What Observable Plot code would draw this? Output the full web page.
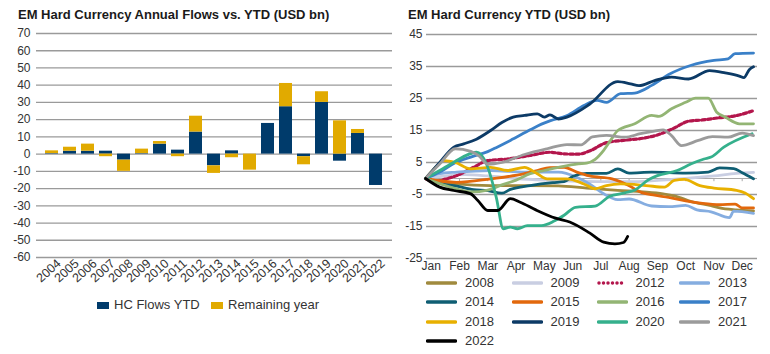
<!DOCTYPE html>
<html>
<head>
<meta charset="utf-8">
<script src="https://cdn.jsdelivr.net/npm/d3@7"></script>
<script src="https://cdn.jsdelivr.net/npm/@observablehq/plot@0.6"></script>
<style>
  html, body { margin: 0; padding: 0; background: #fff; }
  #wrap { position: relative; width: 770px; height: 354px; overflow: hidden; background: #fff;
          font-family: "Liberation Sans", Arial, sans-serif; color: #222; }
  .title { position: absolute; top: 7px; font-size: 13px; font-weight: bold; line-height: 16px; color: #1a1a1a; white-space: nowrap; }
  .leg { position: absolute; font-size: 13px; line-height: 16px; color: #333; white-space: nowrap; display: flex; align-items: center; }
  .abs { position: absolute; top: 0; }
</style>
</head>
<body>
<div id="wrap"></div>
<script>
// ---------- Left chart data ----------
const years = [2004,2005,2006,2007,2008,2009,2010,2011,2012,2013,2014,2015,2016,2017,2018,2019,2020,2021,2022];
const hcFlowsYTD = [0.3,1.7,1.7,1.7,-3.5,0.3,5.8,2.3,12.8,-6.8,1.9,0,17.8,27.5,-1.5,30.0,-4.1,12.0,-18.2];
const remainingYear = [1.6,2.3,4.1,-1.5,-6.5,2.6,1.5,-1.5,9.2,-4.4,-2.1,-9.3,0,13.5,-4.7,6.2,19.3,2.3,0];
const barSeries = ["HC Flows YTD", "Remaining year"];
const barColors = ["#003b6b", "#e1aa00"];
const leftTicks = [-60,-50,-40,-30,-20,-10,0,10,20,30,40,50,60,70];

// ---------- Right chart data ----------
const monthLabels = ["Jan","Feb","Mar","Apr","May","Jun","Jul","Aug","Sep","Oct","Nov","Dec"];
const rightTicks = [45,35,25,15,5,-5,-15,-25];
// [month position (Jan label = 0), cumulative flow USD bn]
const y2008 = [[-0.2,0],[0.9,-1.7],[2.1,-2.2],[3.3,-2.2],[4.5,-2.3],[5.5,-3.0],[6.6,-3.7],[7.5,-4.2],[8.2,-4.8],[8.6,-5.4],[9.2,-7.2],[9.9,-8.5],[10.2,-9.2],[10.8,-9.8],[11.4,-10.1]];
const y2009 = [[-0.2,0],[0.5,0.8],[1.2,1.2],[2,0.8],[3,0],[4,-0.5],[5,-0.8],[6,-1],[7,-1],[8,-0.6],[9,0],[10,0.8],[10.8,1.6],[11.4,1.9]];
const y2012 = [[-0.2,0],[0.1,-1.0],[0.5,-0.2],[0.9,0.9],[1.5,3.5],[2.0,5.6],[2.7,6.1],[3.5,7.2],[4.2,8.2],[4.7,7.7],[5.2,7.6],[5.6,8.6],[6.2,11.2],[6.8,11.9],[7.5,12.6],[8.0,13.6],[8.6,15.8],[9.1,17.9],[9.6,18.3],[10.2,19],[10.7,19.5],[11.4,21.2]];
const y2013 = [[-0.2,0],[0.3,1.5],[0.9,2.0],[2.1,2.5],[3.3,2.0],[4.5,2.0],[5.15,0.4],[5.6,-1.7],[6.05,-4.5],[6.6,-6.6],[7.0,-6.4],[7.8,-8.6],[8.4,-8.8],[9.0,-8.4],[9.4,-9.8],[9.9,-10.4],[10.55,-12.2],[10.7,-10.2],[11.4,-10.9]];
const y2014 = [[-0.2,0],[0.3,-1.5],[0.9,-2.4],[1.5,-3.5],[2.0,-3.8],[2.5,-4.6],[2.8,-3.4],[3.5,-2.2],[4.3,-1.3],[4.7,-1.0],[5.0,0.6],[5.5,1.6],[6.2,1.6],[6.6,3.0],[7.0,1.7],[7.8,2.0],[9.0,1.7],[9.8,2.0],[10.2,3.3],[10.7,3.1],[11.0,1.8],[11.4,-0.1]];
const y2015 = [[-0.2,0],[0.9,-1.2],[2.1,-0.1],[3.3,1.5],[3.75,2.5],[4.2,3.4],[4.7,3.5],[5.15,2.0],[5.6,0.8],[6.4,-0.1],[6.95,-2.0],[7.45,-4.4],[7.9,-5.2],[8.4,-5.9],[9.0,-7.0],[9.6,-7.8],[10.2,-8.2],[10.75,-8.0],[11.0,-9.2],[11.4,-9.2]];
const y2016 = [[-0.2,0],[0.8,-3.0],[1.4,-4.2],[2.0,-3.6],[2.5,-2.0],[3.0,-0.5],[3.5,1.5],[4.0,2.5],[4.5,3.5],[5.2,4.6],[5.5,4.8],[5.8,6.0],[6.1,8.8],[6.35,12],[6.6,15],[7.2,17.1],[7.8,19.7],[8.05,19.4],[8.5,21.8],[9.0,23.8],[9.35,25.1],[9.8,25.1],[10.1,20.7],[10.4,19.2],[10.9,17.1],[11.4,17.1]];
const y2017 = [[-0.2,0],[0.3,2.0],[0.8,4.7],[1.4,6.7],[2.0,8.4],[2.33,9.8],[2.8,11.9],[3.5,15.2],[3.9,17.0],[4.22,18.1],[4.81,19.7],[5.4,22.8],[5.87,24.4],[6.2,23.8],[6.7,26.5],[7.2,26.7],[7.8,29.1],[8.4,32.5],[9.2,35.4],[10.0,36.9],[10.5,37.4],[10.75,39],[11.4,39.2]];
const y2018 = [[-0.2,0],[0.1,3.0],[0.45,5.6],[0.85,5.0],[1.4,3.0],[2.1,3.5],[2.7,2.5],[3.3,3.5],[3.75,1.5],[4.1,-0.1],[4.8,-0.1],[5.4,-1.7],[5.8,-3.2],[6.2,-2.2],[6.7,-1.7],[7.6,-2.2],[8.25,-2.7],[8.6,-0.6],[8.95,-0.3],[9.5,-2.2],[10.0,-3.0],[10.8,-3.7],[11.1,-4.5],[11.4,-6.3]];
const y2019 = [[-0.2,0],[0.3,5.0],[0.8,9.8],[1.15,10.8],[1.6,12.3],[2.1,15],[2.5,17.5],[2.9,19.2],[3.3,19.7],[3.75,20.2],[4.0,19.2],[4.2,19.9],[4.5,18.6],[4.8,19.2],[5.6,23.2],[6.6,30.3],[7.05,29.6],[7.35,29.0],[7.9,30.6],[8.5,31.7],[9.1,31.1],[9.85,33.7],[10.4,33],[10.9,32],[11.06,31.5],[11.25,34],[11.4,34.9]];
const y2020 = [[-0.2,0],[0.3,2.5],[0.8,5.1],[1.6,8.2],[1.95,4.6],[2.3,-5.8],[2.55,-15.7],[2.8,-15.2],[3.05,-15.7],[3.4,-14.7],[3.9,-14.7],[4.35,-13.3],[4.7,-11.5],[5.1,-9],[5.8,-8.6],[6.3,-5.6],[6.85,-4.5],[7.2,-3.6],[7.7,-0.3],[8.0,0.9],[8.7,2.5],[9.2,4.6],[9.65,6.1],[9.9,6.7],[10.35,9.8],[11.35,14]];
const y2021 = [[-0.2,0],[0.3,4.5],[0.85,9.3],[1.4,8.5],[1.7,7],[2.0,4.4],[2.5,5.0],[3.3,7.5],[4.1,9.3],[4.8,10.6],[5.3,10.5],[5.7,13.0],[6.2,13.5],[6.85,12.9],[7.4,14.0],[7.9,14.8],[8.2,15.2],[8.5,13.4],[8.85,10.3],[9.45,11.9],[9.95,13.1],[10.5,12.9],[11.0,14.2],[11.4,13.4]];
const y2022 = [[-0.2,0],[0.3,-2.7],[0.8,-3.75],[1.4,-4.8],[1.65,-6.9],[2.0,-10],[2.35,-10],[2.8,-6.3],[3.15,-7.4],[3.7,-9.8],[4.4,-12.4],[4.9,-13.6],[5.6,-17],[6.1,-19.9],[6.5,-20.4],[6.8,-20],[6.95,-18.1]];

const lineYears = ["2008","2009","2012","2013","2014","2015","2016","2017","2018","2019","2020","2021","2022"];
const lineData = [y2008,y2009,y2012,y2013,y2014,y2015,y2016,y2017,y2018,y2019,y2020,y2021,y2022];
const lineColors = ["#a08a3e","#c9cee2","#b3164c","#85ade0","#0f5e73","#e2680c","#93b574","#3a80c8","#e8b000","#0c3a66","#35b08c","#9b9b9b","#000000"];

// ---------- Build ----------
const wrap = document.getElementById("wrap");
const fontStyle = "background: transparent; overflow: visible; font-family: 'Liberation Sans', Arial, sans-serif; font-size: 12px; color: #333;";

const barRows = [];
years.forEach((yr, i) => {
  barRows.push({year: yr, series: barSeries[0], value: hcFlowsYTD[i]});
  barRows.push({year: yr, series: barSeries[1], value: remainingYear[i]});
});

const left = Plot.plot({
  width: 392, height: 354,
  marginLeft: 36, marginRight: 0, marginTop: 33, marginBottom: 97,
  style: fontStyle,
  x: {type: "band", domain: years, paddingInner: 0.27, paddingOuter: 0.1, label: null},
  y: {domain: [-60, 70], label: null},
  color: {domain: barSeries, range: barColors},
  marks: [
    Plot.ruleY(leftTicks, {stroke: "#9a9a9a", strokeWidth: 1.3}),
    Plot.barY(barRows, {x: "year", y: "value", fill: "series"}),
    Plot.axisY({ticks: leftTicks, tickSize: 0, tickPadding: 6, tickFormat: d => String(d), label: null, fill: "#333"}),
    Plot.axisX({tickSize: 0, tickPadding: 4, tickRotate: -42, dx: 7, fontSize: 12.5, tickFormat: d => String(d), label: null, fill: "#333"})
  ]
});
left.classList.add("abs");
left.style.left = "0px";
wrap.appendChild(left);

const right = Plot.plot({
  width: 380, height: 354,
  marginLeft: 36, marginRight: 13, marginTop: 34, marginBottom: 96,
  style: fontStyle,
  x: {domain: [0, 11], range: [40.7, 351.7], label: null},
  y: {domain: [-25, 45], label: null},
  marks: [
    Plot.ruleY(rightTicks, {stroke: "#9a9a9a", strokeWidth: 1.3}),
    Plot.ruleY([0], {stroke: "#a8a8a8", strokeWidth: 1}),
    Plot.ruleX(d3.range(12), {x: d => d, y1: 0, y2: -1, stroke: "#a8a8a8", strokeWidth: 1}),
    ...lineData.map((data, i) => Plot.line(data, {
      x: d => d[0], y: d => d[1],
      stroke: lineColors[i],
      strokeWidth: lineYears[i] === "2012" ? 3.2 : 2.8,
      strokeDasharray: lineYears[i] === "2012" ? "3.5,2.5" : null,
      curve: "monotone-x"
    })),
    Plot.axisY({ticks: rightTicks, tickSize: 0, tickPadding: 4, tickFormat: d => String(d), label: null, fill: "#333"}),
    Plot.axisX({ticks: d3.range(12), tickSize: 0, tickPadding: 3, tickFormat: i => monthLabels[i], label: null, fill: "#333"})
  ]
});
right.classList.add("abs");
right.style.left = "390px";
wrap.appendChild(right);

// Titles
function addDiv(cls, html, x, y) {
  const d = document.createElement("div");
  d.className = cls; d.innerHTML = html;
  d.style.left = x + "px";
  if (y != null) d.style.top = y + "px";
  wrap.appendChild(d);
  return d;
}
addDiv("title", "EM Hard Currency Annual Flows vs. YTD (USD bn)", 18);
addDiv("title", "EM Hard Currency YTD (USD bn)", 408);

// Left legend
const legX = [97, 211];
barSeries.forEach((s, i) => {
  addDiv("leg", `<svg width="12" height="7" style="margin-right:5px"><rect width="12" height="7" fill="${barColors[i]}"/></svg>${s}`, legX[i], 297);
});

// Right legend
const colX = [426, 511.5, 596.5, 679];
lineYears.forEach((yr, i) => {
  const col = i % 4, row = Math.floor(i / 4);
  const dotted = yr === "2012";
  const sw = dotted
    ? `<svg width="31" height="6" style="margin-right:8px"><line x1="2" y1="3" x2="29" y2="3" stroke="${lineColors[i]}" stroke-width="3.5" stroke-linecap="round" stroke-dasharray="0,4.5"/></svg>`
    : `<svg width="31" height="6" style="margin-right:8px"><line x1="1.5" y1="3" x2="29.5" y2="3" stroke="${lineColors[i]}" stroke-width="3.5" stroke-linecap="round"/></svg>`;
  addDiv("leg", sw + yr, colX[col], 275 + row * 19.3);
});
</script>
</body>
</html>
